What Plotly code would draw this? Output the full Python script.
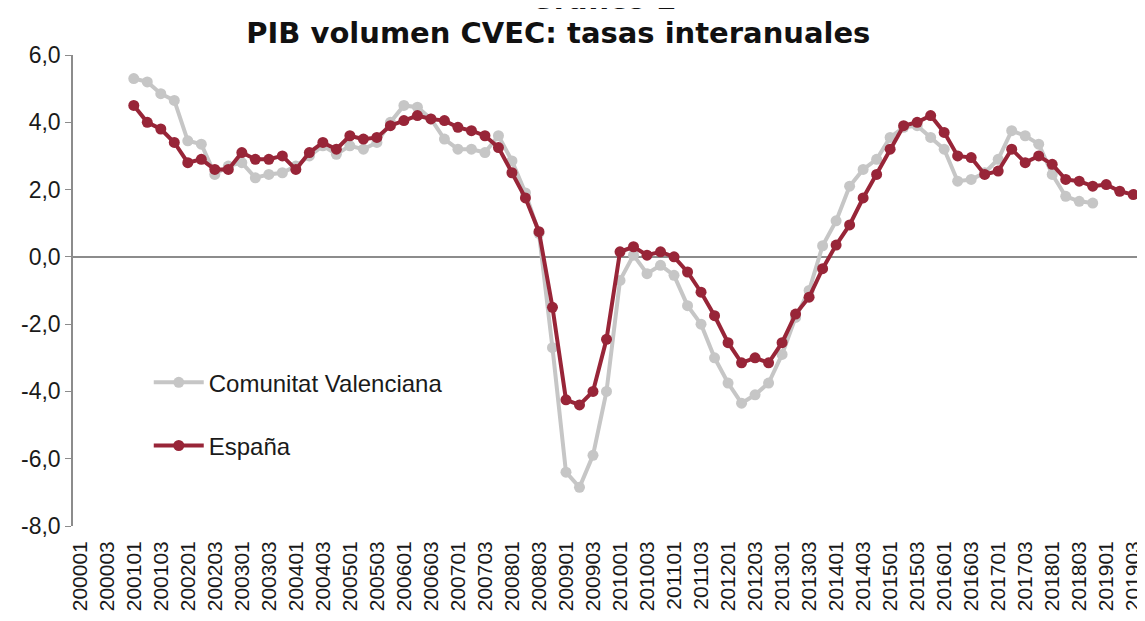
import plotly.graph_objects as go

# Quarterly categories 2000Q1 .. 2019Q3
periods = [f"{y}0{q}" for y in range(2000, 2020) for q in range(1, 5)][:79]

espana = [4.5, 4.0, 3.8, 3.4, 2.8, 2.9, 2.6, 2.6, 3.1, 2.9, 2.9, 3.0, 2.6, 3.1, 3.4, 3.2,
          3.6, 3.5, 3.55, 3.9, 4.05, 4.2, 4.1, 4.05, 3.85, 3.75, 3.6, 3.25, 2.5, 1.75, 0.75, -1.5,
          -4.25, -4.4, -4.0, -2.45, 0.15, 0.3, 0.05, 0.15, 0.0, -0.45, -1.05, -1.75, -2.55, -3.15,
          -3.0, -3.15, -2.55, -1.7, -1.2, -0.35, 0.35, 0.95, 1.75, 2.45, 3.2, 3.9, 4.0, 4.2,
          3.7, 3.0, 2.95, 2.45, 2.55, 3.2, 2.8, 3.0, 2.75, 2.3, 2.25, 2.1, 2.15, 1.95, 1.85]

cvalenciana = [5.3, 5.2, 4.85, 4.65, 3.45, 3.35, 2.45, 2.7, 2.8, 2.35, 2.45, 2.5, 2.7, 3.0, 3.3, 3.05,
               3.3, 3.2, 3.4, 4.0, 4.5, 4.45, 4.1, 3.5, 3.2, 3.2, 3.1, 3.6, 2.85, 1.9, 0.7, -2.7,
               -6.4, -6.85, -5.9, -4.0, -0.7, 0.05, -0.5, -0.25, -0.55, -1.45, -2.0, -3.0, -3.75, -4.35,
               -4.1, -3.75, -2.9, -1.8, -1.0, 0.33, 1.07, 2.1, 2.6, 2.9, 3.55, 3.85, 3.9, 3.55,
               3.2, 2.25, 2.3, 2.5, 2.9, 3.75, 3.6, 3.35, 2.45, 1.8, 1.65, 1.6]

start = 4  # 2001Q1
x_es = periods[start:start + len(espana)]
x_cv = periods[start:start + len(cvalenciana)]

tick_labels = periods[::2]
y_tickvals = [6, 4, 2, 0, -2, -4, -6, -8]
y_ticktext = ["6,0", "4,0", "2,0", "0,0", "-2,0", "-4,0", "-6,0", "-8,0"]

title_text = "<b>PIB volumen CVEC: tasas interanuales</b>"
top_text = "<b>Gráfico 2</b>"

GRAY = "#C6C6C6"
RED = "#982538"

fig = go.Figure()
fig.add_trace(go.Scatter(
    x=x_cv, y=cvalenciana, name="Comunitat Valenciana", mode="lines+markers",
    line=dict(color=GRAY, width=4), marker=dict(color=GRAY, size=11),
    legendgroup="cv"))
fig.add_trace(go.Scatter(
    x=x_es, y=espana, name="España", mode="lines+markers",
    line=dict(color=RED, width=4), marker=dict(color=RED, size=11),
    legendgroup="es"))

# page body adds an 8px offset; figure sized to fill the remaining window
fig.update_layout(
    width=1137, height=613,
    margin=dict(l=65, r=5, t=47, b=95, autoexpand=False),
    paper_bgcolor="white", plot_bgcolor="white",
    font=dict(family="Liberation Sans, Arial, sans-serif", size=23, color="#1a1a1a"),
    title=dict(text=title_text, x=0.484, xanchor="center", y=0.959, yanchor="middle",
               font=dict(family="DejaVu Sans, Verdana, sans-serif", size=29, color="#111111")),
    showlegend=True,
    legend=dict(x=0.071, y=0.352, xanchor="left", yanchor="top",
                bgcolor="rgba(0,0,0,0)", font=dict(size=24, color="#1a1a1a"),
                traceorder="grouped", tracegroupgap=29, itemwidth=50),
    xaxis=dict(type="category", categoryorder="array", categoryarray=periods,
               range=[-0.5, 78.5], tickmode="array", tickvals=tick_labels,
               ticktext=tick_labels, tickangle=-90, showgrid=False, showline=False,
               ticks="", zeroline=False, tickfont=dict(size=21, color="#1a1a1a"),
               ticklabelstandoff=10, automargin=False),
    yaxis=dict(range=[-8, 6], tickmode="array", tickvals=y_tickvals, ticktext=y_ticktext,
               showgrid=False, automargin=False,
               showline=True, linecolor="#8c8c8c", linewidth=1.5,
               ticks="outside", ticklen=6, tickcolor="#8c8c8c",
               zeroline=True, zerolinecolor="#8c8c8c", zerolinewidth=1.5,
               tickfont=dict(size=23, color="#1a1a1a")),
    annotations=[dict(text=top_text, xref="paper", yref="paper", x=0.497, y=1.0,
                      yshift=56, xanchor="center", yanchor="middle", showarrow=False,
                      font=dict(family="DejaVu Sans, Verdana, sans-serif", size=29,
                                color="#111111"))],
)

fig.write_html("out.html")
